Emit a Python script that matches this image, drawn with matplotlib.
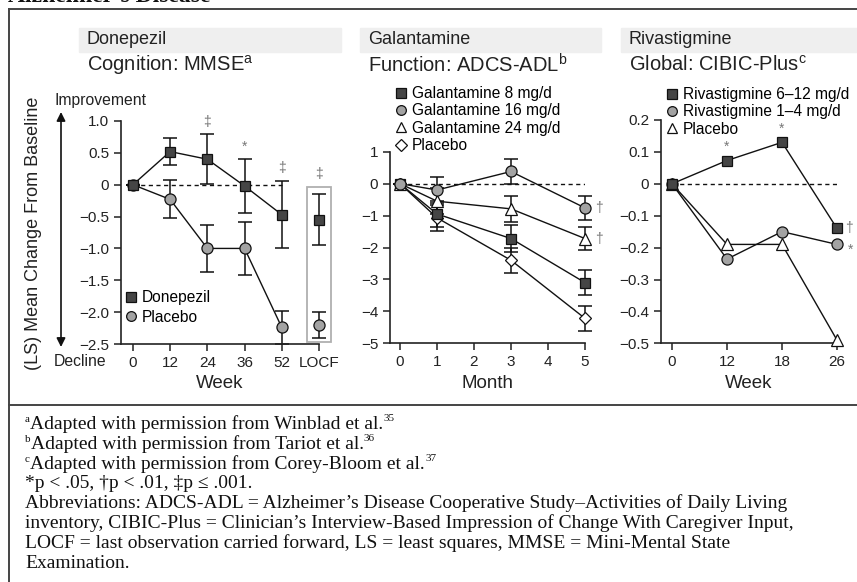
import matplotlib
matplotlib.use('Agg')
from matplotlib import pyplot as plt
from matplotlib.lines import Line2D
from matplotlib.patches import Rectangle

plt.rcParams['font.family'] = ['Liberation Sans', 'DejaVu Sans']
plt.rcParams['axes.unicode_minus'] = True

# ---- data ----
# Donepezil, MMSE
done_weeks = ['0', '12', '24', '36', '52', 'LOCF']
done_drug = [0, 0.52, 0.40, -0.02, -0.47, -0.55]
done_drug_err = [0, 0.21, 0.39, 0.42, 0.53, 0.40]
done_pbo = [0, -0.23, -1.0, -1.0, -2.24, -2.2]
done_pbo_err = [0, 0.30, 0.37, 0.42, 0.26, 0.20]
done_sig = ['', '', '\u2021', '*', '\u2021', '\u2021']

# Galantamine, ADCS-ADL
gal_months = [0, 1, 3, 5]
gal_8 = [0, -0.95, -1.72, -3.1]
gal_8_err = [0, 0.40, 0.42, 0.40]
gal_16 = [0, -0.2, 0.38, -0.76]
gal_16_err = [0, 0.42, 0.38, 0.38]
gal_24 = [0, -0.55, -0.79, -1.72]
gal_24_err = [0, 0.40, 0.40, 0.37]
gal_pbo = [0, -1.07, -2.4, -4.22]
gal_pbo_err = [0, 0.40, 0.39, 0.38]
gal_16_sig = ['', '', '', '\u2020']
gal_24_sig = ['', '', '', '\u2020']

# Rivastigmine, CIBIC-Plus
riv_weeks = ['0', '12', '18', '26']
riv_high = [0, 0.073, 0.13, -0.14]
riv_low = [0, -0.236, -0.15, -0.19]
riv_pbo = [0, -0.19, -0.19, -0.49]
riv_high_sig = ['', '*', '*', '\u2020']
riv_low_sig = ['', '', '', '*']

# footnotes: (superscript before, text, superscript after)
notes = [
    ('a', 'Adapted with permission from Winblad et al.', '35'),
    ('b', 'Adapted with permission from Tariot et al.', '36'),
    ('c', 'Adapted with permission from Corey-Bloom et al.', '37'),
    ('', '*p < .05, \u2020p < .01, \u2021p \u2264 .001.', ''),
    ('', 'Abbreviations: ADCS-ADL = Alzheimer\u2019s Disease Cooperative Study\u2013Activities of Daily Living', ''),
    ('', 'inventory, CIBIC-Plus = Clinician\u2019s Interview-Based Impression of Change With Caregiver Input,', ''),
    ('', 'LOCF = last observation carried forward, LS = least squares, MMSE = Mini-Mental State', ''),
    ('', 'Examination.', ''),
]

W, H = 857, 582


def fx(x):
    return x / W


def fy(y):
    return 1 - y / H


def minus(s):
    return s.replace('-', '\u2212')


sq = dict(marker='s', mfc='#454545', mec='#111111', ms=7.5, mew=0.9)
ci = dict(marker='o', mfc='#a3a3a3', mec='#111111', ms=8, mew=0.9)
tr = dict(marker='^', mfc='white', mec='#111111', ms=8.5, mew=0.9)
di = dict(marker='D', mfc='white', mec='#111111', ms=6.5, mew=0.9)
sig_color = '#777777'
txt = '#222222'

fig = plt.figure(figsize=(W / 100, H / 100), dpi=100)


def style_axes(ax):
    for s in ['top', 'right']:
        ax.spines[s].set_visible(False)
    for s in ['left', 'bottom']:
        ax.spines[s].set_linewidth(1.2)
        ax.spines[s].set_color(txt)
    ax.tick_params(direction='out', length=5, width=1.1, color=txt,
                   labelsize=11, pad=3.5, labelcolor=txt)
    ax.set_facecolor('none')


def draw_series(ax, x, y, err, st, n_line=None):
    n = len(x) if n_line is None else n_line
    if err is not None:
        ax.errorbar(x, y, yerr=err, fmt='none', ecolor='#111111', elinewidth=1.1,
                    capsize=5, capthick=1.1, zorder=2, clip_on=False)
    ax.plot(x[:n], y[:n], color='#111111', lw=1.0, zorder=3, clip_on=False)
    ax.plot(x, y, ls='none', zorder=4, clip_on=False, **st)


def legend(ax, handles, labels, x, y, spacing):
    ax.legend(handles, labels, loc='upper left', frameon=False,
              bbox_to_anchor=(fx(x), fy(y)), bbox_transform=fig.transFigure,
              fontsize=11.2, handlelength=0.7, handletextpad=0.3,
              labelspacing=spacing, borderpad=0, borderaxespad=0)


# ---- frame, header bands, titles ----
fig.text(fx(8), fy(2), "Alzheimer\u2019s Disease", family='Liberation Serif',
         weight='bold', fontsize=17, va='baseline', color='#111111')
for seg in [((9, 857), (9, 9)), ((9, 9), (9, 582)), ((9, 857), (405, 405))]:
    fig.add_artist(Line2D([fx(seg[0][0]), fx(seg[0][1])], [fy(seg[1][0]), fy(seg[1][1])],
                          color='#444444', lw=1.4))

headers = [(79, 341, 'Donepezil', 'Cognition: MMSE$^{\\mathregular{a}}$'),
           (360, 601, 'Galantamine', 'Function: ADCS-ADL$^{\\mathregular{b}}$'),
           (621, 857, 'Rivastigmine', 'Global: CIBIC-Plus$^{\\mathregular{c}}$')]
for x0, x1, head, sub in headers:
    fig.add_artist(Rectangle((fx(x0), fy(52)), (x1 - x0) / W, 24 / H,
                             transform=fig.transFigure, color='#efefef', zorder=0))
    fig.text(fx(x0 + 8), fy(40), head, fontsize=13, va='center', color=txt)
    fig.text(fx(x0 + 8), fy(65), sub, fontsize=14.5, va='center', color=txt)

# ---- panel 1: Donepezil ----
ax1 = fig.add_axes([fx(121), fy(344), (319 - 121) / W, (344 - 121) / H])
style_axes(ax1)
xd = list(range(len(done_weeks)))
ax1.plot([0, 4], [0, 0], ls=(0, (3, 2.5)), color='#111111', lw=1.0, zorder=1)
draw_series(ax1, xd, done_pbo, done_pbo_err, ci, n_line=5)
draw_series(ax1, xd, done_drug, done_drug_err, sq, n_line=5)
locf = len(done_weeks) - 1
ax1.add_patch(Rectangle((locf - 0.31, -2.47), 0.62, 2.44, fill=False,
                        ec='#b0b0b0', lw=1.3, clip_on=False, zorder=1))
for i, s in enumerate(done_sig):
    if s:
        top = done_drug[i] + done_drug_err[i]
        if i == locf:
            top = -0.03
        ax1.annotate(s, (xd[i], top), xytext=(0, 4), textcoords='offset points',
                     ha='center', va='bottom', fontsize=10, color=sig_color,
                     annotation_clip=False)
ax1.set_xlim(-0.32, 5.0)
ax1.set_ylim(-2.5, 1.0)
ax1.set_xticks(xd)
ax1.set_xticklabels(done_weeks)
yt1 = [1.0, 0.5, 0, -0.5, -1.0, -1.5, -2.0, -2.5]
ax1.set_yticks(yt1)
ax1.set_yticklabels(['0' if v == 0 else minus(f'{v:.1f}') for v in yt1])
ax1.set_xlabel('Week', fontsize=13.5, labelpad=4, color=txt)
leg1 = [Line2D([], [], ls='none', **dict(sq, ms=7)), Line2D([], [], ls='none', **dict(ci, ms=7))]
legend(ax1, leg1, ['Donepezil', 'Placebo'], 126, 290, 0.3)

fig.text(fx(34), fy(233), '(LS) Mean Change From Baseline', rotation=90,
         fontsize=13, ha='center', va='center', color=txt)
fig.text(fx(55), fy(100), 'Improvement', fontsize=11.3, va='center', color=txt)
fig.text(fx(54), fy(362), 'Decline', fontsize=11.3, va='center', color=txt)
ax1.annotate('', xy=(fx(61), fy(112)), xytext=(fx(61), fy(347)),
             xycoords='figure fraction', textcoords='figure fraction',
             arrowprops=dict(arrowstyle='<|-|>', color='#111111', lw=1.2,
                             mutation_scale=13, shrinkA=0, shrinkB=0),
             annotation_clip=False)

# ---- panel 2: Galantamine ----
ax2 = fig.add_axes([fx(390), fy(343.3), (585 - 390) / W, (343.3 - 151.7) / H])
style_axes(ax2)
ax2.plot([0, 5], [0, 0], ls=(0, (3, 2.5)), color='#111111', lw=1.0, zorder=1)
draw_series(ax2, gal_months, gal_pbo, gal_pbo_err, di)
draw_series(ax2, gal_months, gal_8, gal_8_err, sq)
draw_series(ax2, gal_months, gal_24, gal_24_err, tr)
draw_series(ax2, gal_months, gal_16, gal_16_err, ci)
for series, sig in [(gal_16, gal_16_sig), (gal_24, gal_24_sig)]:
    for i, s in enumerate(sig):
        if s:
            ax2.annotate(s, (gal_months[i], series[i]), xytext=(7, 0),
                         textcoords='offset points', ha='left', va='center',
                         fontsize=10, color=sig_color, annotation_clip=False)
ax2.set_xlim(-0.27, 5.0)
ax2.set_ylim(-5, 1)
ax2.set_xticks(range(6))
yt2 = [1, 0, -1, -2, -3, -4, -5]
ax2.set_yticks(yt2)
ax2.set_yticklabels([minus(str(v)) for v in yt2])
ax2.set_xlabel('Month', fontsize=13.5, labelpad=4, color=txt)
leg2 = [Line2D([], [], ls='none', **dict(sq, ms=7)), Line2D([], [], ls='none', **dict(ci, ms=7)),
        Line2D([], [], ls='none', **dict(tr, ms=7.5)), Line2D([], [], ls='none', **dict(di, ms=6))]
legend(ax2, leg2, ['Galantamine 8 mg/d', 'Galantamine 16 mg/d', 'Galantamine 24 mg/d', 'Placebo'],
       396, 86, 0.15)

# ---- panel 3: Rivastigmine ----
ax3 = fig.add_axes([fx(661), fy(343.3), (837 - 661) / W, (343.3 - 120) / H])
style_axes(ax3)
xr = list(range(len(riv_weeks)))
ax3.plot([0, 3], [0, 0], ls=(0, (3, 2.5)), color='#111111', lw=1.0, zorder=1)
draw_series(ax3, xr, riv_pbo, None, tr)
draw_series(ax3, xr, riv_low, None, ci)
draw_series(ax3, xr, riv_high, None, sq)
for i, s in enumerate(riv_high_sig):
    if s and i < len(xr) - 1:
        ax3.annotate(s, (xr[i], riv_high[i]), xytext=(0, 5), textcoords='offset points',
                     ha='center', va='bottom', fontsize=10, color=sig_color,
                     annotation_clip=False)
    elif s:
        ax3.annotate(s, (xr[i], riv_high[i]), xytext=(6, 0), textcoords='offset points',
                     ha='left', va='center', fontsize=10, color=sig_color,
                     annotation_clip=False)
for i, s in enumerate(riv_low_sig):
    if s:
        ax3.annotate(s, (xr[i], riv_low[i]), xytext=(8, -4), textcoords='offset points',
                     ha='left', va='center', fontsize=10, color=sig_color,
                     annotation_clip=False)
ax3.set_xlim(-0.2, 3.0)
ax3.set_ylim(-0.5, 0.2)
ax3.set_xticks(xr)
ax3.set_xticklabels(riv_weeks)
yt3 = [0.2, 0.1, 0, -0.1, -0.2, -0.3, -0.4, -0.5]
ax3.set_yticks(yt3)
ax3.set_yticklabels(['0' if v == 0 else minus(f'{v:.1f}') for v in yt3])
ax3.set_xlabel('Week', fontsize=13.5, labelpad=4, color=txt)
leg3 = [Line2D([], [], ls='none', **dict(sq, ms=7)), Line2D([], [], ls='none', **dict(ci, ms=7)),
        Line2D([], [], ls='none', **dict(tr, ms=7.5))]
legend(ax3, leg3, ['Rivastigmine 6\u201312 mg/d', 'Rivastigmine 1\u20134 mg/d', 'Placebo'],
       667, 87, 0.15)

# ---- footnotes, small raised letters placed by measured width ----
renderer = fig.canvas.get_renderer()
serif = ['Liberation Serif', 'DejaVu Serif']
for i, (pre, line, post) in enumerate(notes):
    base = 429 + 19.8 * i
    x = 25
    for part, size, rise in [(pre, 8, 7), (line, 14, 0), (post, 8, 8)]:
        if not part:
            continue
        t = fig.text(fx(x), fy(base - rise), part, family=serif, fontsize=size,
                     va='baseline', color='#111111')
        x += t.get_window_extent(renderer).width + (0.5 if size < 10 else 0)

fig.savefig('out.png', dpi=100)
